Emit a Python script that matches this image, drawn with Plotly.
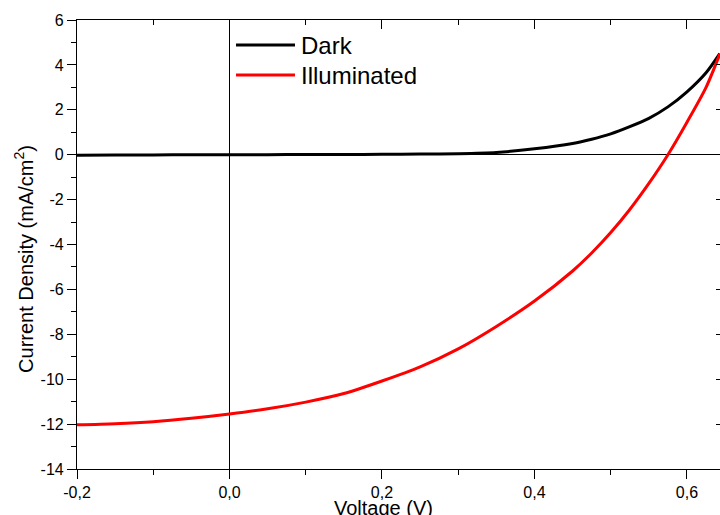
import plotly.graph_objects as go

voltage = [-0.2, -0.15, -0.1, -0.05, 0.0, 0.05, 0.1, 0.15, 0.2, 0.25, 0.3, 0.35,
           0.4, 0.45, 0.475, 0.5, 0.525, 0.55, 0.575, 0.6, 0.625, 0.643]
dark = [-0.02, -0.015, -0.01, -0.005, 0.0, 0.003, 0.006, 0.01, 0.016, 0.026, 0.045, 0.1,
        0.26, 0.5, 0.69, 0.93, 1.25, 1.62, 2.13, 2.8, 3.65, 4.5]
illuminated = [-12.03, -11.98, -11.89, -11.74, -11.55, -11.32, -11.02, -10.64, -10.08, -9.45,
               -8.65, -7.65, -6.52, -5.18, -4.38, -3.47, -2.44, -1.28, 0.0, 1.45, 3.0, 4.48]

x_major = [-0.2, 0.0, 0.2, 0.4, 0.6]
x_major_text = ["-0,2", "0,0", "0,2", "0,4", "0,6"]
x_minor = [-0.1, 0.1, 0.3, 0.5]
y_major = [-14, -12, -10, -8, -6, -4, -2, 0, 2, 4, 6]
y_major_text = ["-14", "-12", "-10", "-8", "-6", "-4", "-2", "0", "2", "4", "6"]
y_minor = [-13, -11, -9, -7, -5, -3, -1, 1, 3, 5]

FONT = "Liberation Sans, Arial, sans-serif"
x_range = [-0.2, 0.6433]
y_range = [-14, 6]

fig = go.Figure()
fig.add_trace(go.Scatter(x=voltage, y=dark, mode="lines", name="Dark",
                         line=dict(color="black", width=3, shape="spline", smoothing=0.8),
                         showlegend=False))
fig.add_trace(go.Scatter(x=voltage, y=illuminated, mode="lines", name="Illuminated",
                         line=dict(color="#ff0000", width=3, shape="spline", smoothing=0.8),
                         showlegend=False))
# invisible helper trace for mirrored axes
fig.add_trace(go.Scatter(x=voltage[:1], y=dark[:1], xaxis="x2", yaxis="y2",
                         mode="lines", showlegend=False, hoverinfo="skip"))

fig.update_layout(
    width=720, height=515,
    margin=dict(l=77, r=0, t=20, b=46),
    paper_bgcolor="white", plot_bgcolor="white",
    font=dict(family=FONT, size=16, color="black"),
    xaxis=dict(range=x_range, showgrid=False, zeroline=True, zerolinecolor="black",
               zerolinewidth=1.2, showline=True, linecolor="black", linewidth=1.2,
               tickmode="array", tickvals=x_major, ticktext=x_major_text,
               ticks="outside", ticklen=9, tickwidth=1.2, tickcolor="black",
               minor=dict(tickmode="array", tickvals=x_minor, ticks="outside",
                          ticklen=5, tickwidth=1.2, tickcolor="black"),
               tickfont=dict(size=16), ticklabelstandoff=0),
    yaxis=dict(range=y_range, showgrid=False, zeroline=True, zerolinecolor="black",
               zerolinewidth=1.2, showline=True, linecolor="black", linewidth=1.2,
               tickmode="array", tickvals=y_major, ticktext=y_major_text,
               ticks="outside", ticklen=9, tickwidth=1.2, tickcolor="black",
               minor=dict(tickmode="array", tickvals=y_minor, ticks="outside",
                          ticklen=5, tickwidth=1.2, tickcolor="black"),
               tickfont=dict(size=16)),
    xaxis2=dict(range=x_range, overlaying="x", side="top", showgrid=False,
                zeroline=False, showline=True, linecolor="black", linewidth=1.2,
                tickmode="array", tickvals=x_major, showticklabels=False,
                ticks="inside", ticklen=9, tickwidth=1.2, tickcolor="black",
                minor=dict(tickmode="array", tickvals=x_minor, ticks="inside",
                           ticklen=5, tickwidth=1.2, tickcolor="black")),
    yaxis2=dict(range=y_range, overlaying="y", side="right", showgrid=False,
                zeroline=False, showline=False,
                tickmode="array", tickvals=y_major, showticklabels=False,
                ticks="inside", ticklen=4, tickwidth=1.2, tickcolor="black"),
    showlegend=False,
)

# axis titles
fig.add_annotation(text="Voltage (V)", xref="paper", yref="paper",
                   x=0.476, y=-0.087, xanchor="center", yanchor="middle",
                   showarrow=False, font=dict(size=20, family=FONT))
fig.add_annotation(text="Current Density (mA/cm<sup>2</sup>)", xref="paper", yref="paper",
                   x=-0.0824, y=0.468, xanchor="center", yanchor="middle", textangle=-90,
                   showarrow=False, font=dict(size=20, family=FONT))

# legend drawn in the upper-left of the plot
legend_names = ["Dark", "Illuminated"]
legend_colors = ["black", "#ff0000"]
legend_y = [0.9443, 0.8775]
for name, col, ly in zip(legend_names, legend_colors, legend_y):
    fig.add_shape(type="line", xref="paper", yref="paper", x0=0.2473, x1=0.339,
                  y0=ly, y1=ly, line=dict(color=col, width=3))
    fig.add_annotation(text=name, xref="paper", yref="paper", x=0.345, y=ly,
                       xanchor="left", yanchor="middle", showarrow=False,
                       font=dict(size=24, family=FONT))

fig.write_html("out.html")
